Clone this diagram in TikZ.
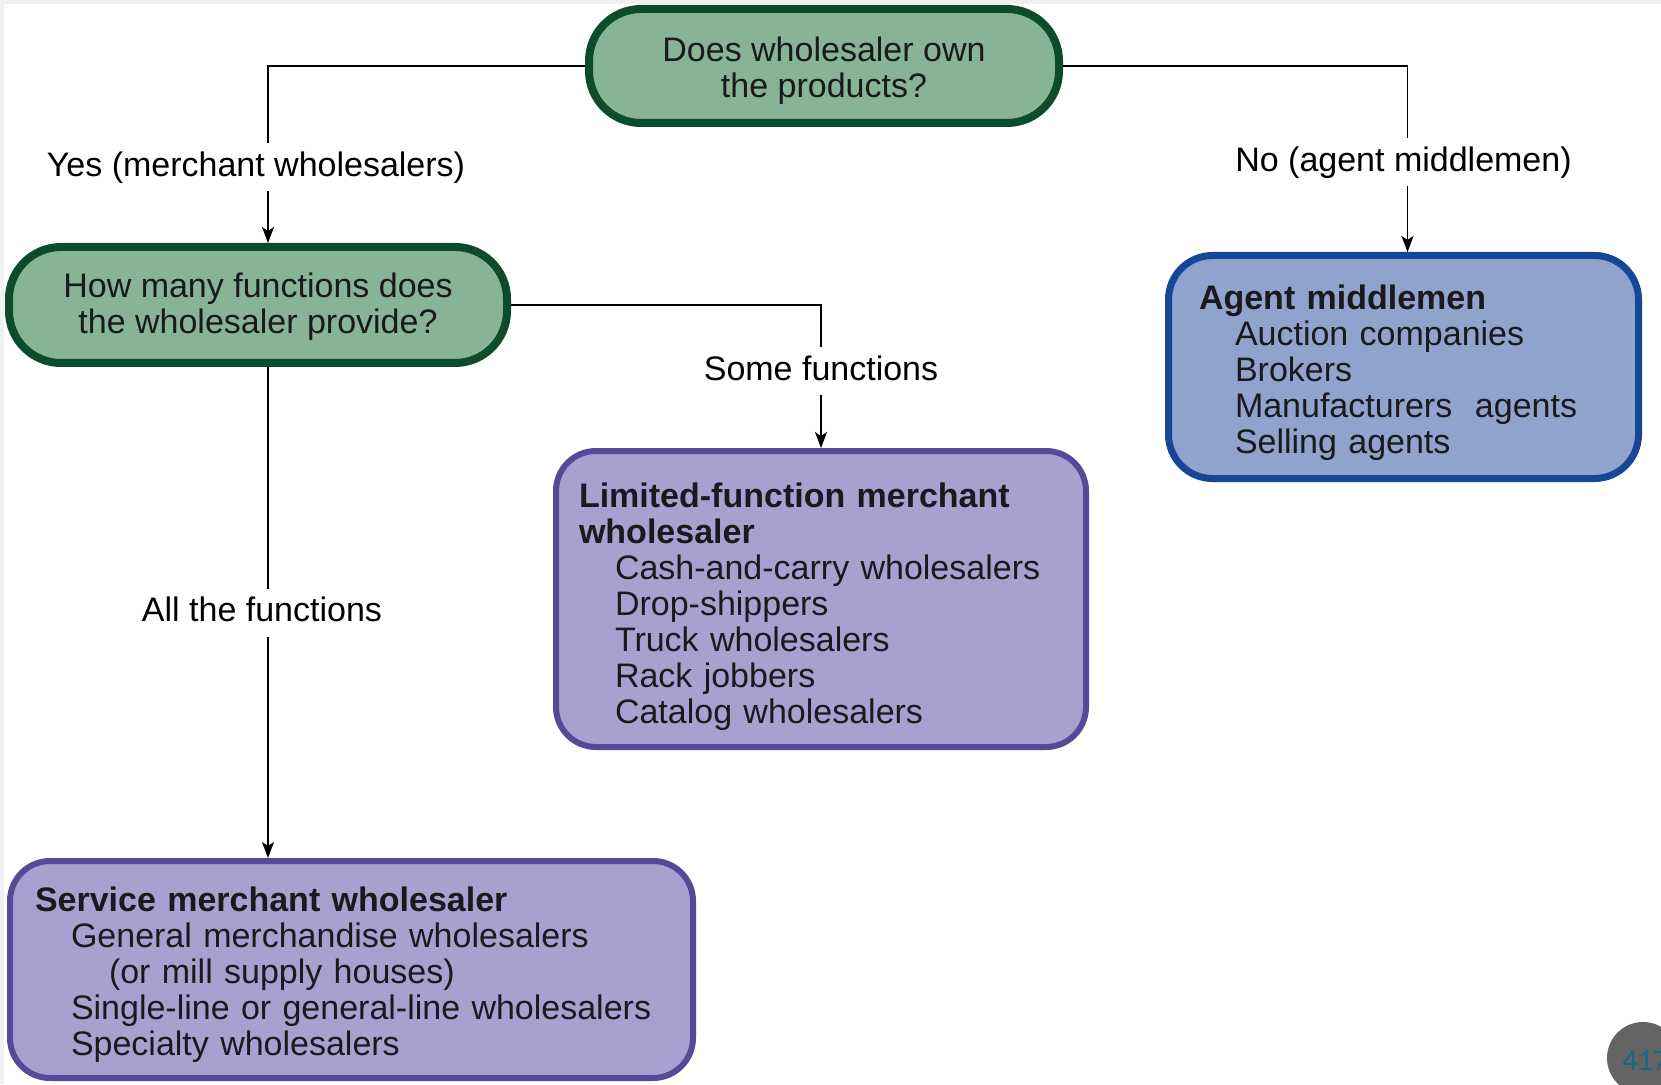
\documentclass[tikz,border=0pt]{standalone}
\usepackage{fontspec}
\setmainfont{Liberation Sans}
\newfontfamily\badgefont{Carlito}
\usetikzlibrary{arrows.meta}

\definecolor{qfill}{RGB}{135,180,148}
\definecolor{qdraw}{RGB}{12,76,42}
\definecolor{afill}{RGB}{143,163,204}
\definecolor{adraw}{RGB}{22,70,152}
\definecolor{pfill}{RGB}{168,161,208}
\definecolor{pdraw}{RGB}{86,73,152}
\definecolor{boxtext}{RGB}{26,26,30}
\definecolor{edgegray}{RGB}{240,240,240}
\definecolor{badgegray}{RGB}{100,100,100}
\definecolor{badgeteal}{RGB}{24,104,136}

% 箇条の字下げ
\newcommand{\lvla}{\hspace*{18pt}}
\newcommand{\lvlb}{\hspace*{37pt}}
% 1行目の高さ調整
\newcommand{\pad}[1]{\rule{0pt}{#1}}

\begin{document}
\begin{tikzpicture}[x=1pt, y=1pt, every node/.style={font=\fontsize{17}{18}\selectfont},
  qbox/.style={draw=qdraw, fill=qfill, line width=4pt, rounded corners=26pt, align=center, text=boxtext},
  abox/.style={draw=adraw, fill=afill, line width=3.5pt, rounded corners=22pt, align=left, text=boxtext},
  pbox/.style={draw=pdraw, fill=pfill, line width=3pt, rounded corners=20pt, align=left, text=boxtext},
  lbl/.style={fill=white, inner xsep=2pt, inner ysep=4pt, text height=12.5pt, text depth=3.5pt},
  arr/.style={-{Stealth[length=8pt, width=6pt, inset=2pt]}, line width=0.8pt}]

  % 外枠 (830.5pt x 542pt) - 上と左に薄いグレー
  \clip (0,0) rectangle (830.5,542);
  \fill[white] (0,0) rectangle (830.5,542);
  \fill[edgegray] (0,540) rectangle (830.5,542);
  \fill[edgegray] (0,0) rectangle (2,542);

  % 問い (緑)
  \node[qbox, minimum width=235pt, minimum height=57pt] (own) at (412,509)
    {\pad{17.5pt}Does wholesaler own\\the products?};
  \node[qbox, minimum width=249pt, minimum height=58pt] (q2) at (129,389.5)
    {\pad{14.5pt}How many functions does\\the wholesaler provide?};

  % 代理商 (青)
  \node[abox, minimum width=235pt, minimum height=111.5pt, text width=204.5pt] (agent) at (701.75,358.5)
    {\pad{17.7pt}\textbf{Agent middlemen}\\
     \lvla Auction companies\\
     \lvla Brokers\\
     \lvla Manufacturers~~agents\\
     \lvla Selling agents};

  % 卸売業者 (紫)
  \node[pbox, minimum width=265pt, minimum height=148pt, text width=242pt] (limited) at (410.5,242.5)
    {\pad{20.5pt}\textbf{Limited-function merchant}\\
     \textbf{wholesaler}\\
     \lvla Cash-and-carry wholesalers\\
     \lvla Drop-shippers\\
     \lvla Truck wholesalers\\
     \lvla Rack jobbers\\
     \lvla Catalog wholesalers};
  \node[pbox, minimum width=341.5pt, minimum height=108.5pt, text width=316.5pt] (service) at (175.75,57.25)
    {\pad{17.7pt}\textbf{Service merchant wholesaler}\\
     \lvla General merchandise wholesalers\\
     \lvlb (or mill supply houses)\\
     \lvla Single-line or general-line wholesalers\\
     \lvla Specialty wholesalers};

  % 矢印とラベル
  \draw[arr] (own.west) -| node[lbl, pos=0.786, xshift=-6pt] {Yes (merchant wholesalers)} ([xshift=5pt]q2.north);
  \draw[arr] (own.east) -| node[lbl, pos=0.759, xshift=-2pt] {No (agent middlemen)} ([xshift=2pt]agent.north);
  \draw[arr] (q2.east) -| node[lbl, pos=0.731] {Some functions} (limited.north);
  \draw[arr] ([xshift=5pt]q2.south) -- node[lbl, pos=0.501, xshift=-3pt] {All the functions} ([xshift=5pt]q2.south |- service.north);

  % ページ番号 (右下)
  \fill[badgegray] (821.5,13) circle (18pt);
  \node[anchor=base west, inner sep=0pt, text=badgeteal, font=\badgefont\fontsize{15}{16}\selectfont] (pagenum) at (811,7) {417};

\end{tikzpicture}
\end{document}
